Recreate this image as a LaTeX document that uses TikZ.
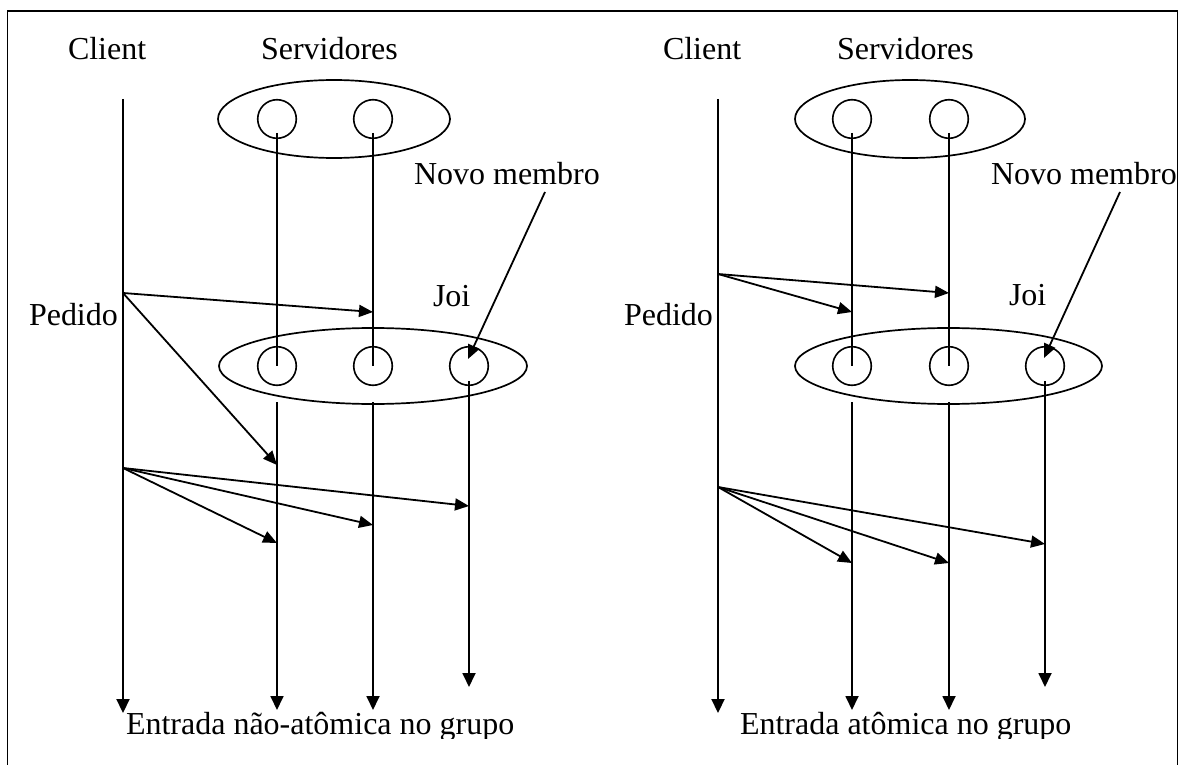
\documentclass[tikz,border=0pt]{standalone}
\usepackage{fontspec}
\setmainfont{Liberation Serif}
\usetikzlibrary{shapes.geometric,arrows.meta}
\tikzset{
  lbl/.style={anchor=base west,inner sep=0pt,outer sep=0pt,font=\fontsize{32}{38}\selectfont},
  grp/.style={ellipse,draw,line width=1.7pt,inner sep=0pt},
  proc/.style={circle,draw,line width=1.6pt,minimum size=38.6pt,inner sep=0pt},
  life/.style={line width=1.6pt},
  clientline/.style={line width=2.2pt,-{Triangle[length=14pt,width=13pt]}},
  lifearrow/.style={line width=1.8pt,-{Triangle[length=14pt,width=13pt]}},
  msg/.style={line width=1.8pt,-{Triangle[length=14pt,width=12pt]}},
}
\begin{document}
\begin{tikzpicture}[x=1pt,y=-1pt]
\useasboundingbox (0,0) rectangle (1179,765);
\clip (0,0) rectangle (1179,765);
% frame
\draw[line width=1.8pt] (7.5,775) -- (7.5,11) -- (1177.5,11) -- (1177.5,775);

% ================= LEFT PANEL =================
\node[lbl] (lclient) at (68,60) {Client};
\node[lbl] (lserv) at (261,60) {Servidores};
\node[lbl] (lnovo) at (414,185) {Novo membro};
\node[lbl] (ljoi) at (433,306) {Joi};
\node[lbl] (lped) at (29,325) {Pedido};

\node[grp,minimum width=232pt,minimum height=78pt] (lg1) at (334,119) {};
\node[proc] (la1) at (277,119) {};
\node[proc] (la2) at (373,119) {};
\node[grp,minimum width=308pt,minimum height=76pt] (lg2) at (373,366) {};
\node[proc] (lb1) at (277,366) {};
\node[proc] (lb2) at (373,366) {};
\node[proc] (lb3) at (469,366) {};

\coordinate (lct) at (123,99);
\coordinate (lcb) at (123,713);
\draw[clientline] (lct) -- (lcb);

\draw[life] ([yshift=-14pt]la1.center) -- (lb1.center);
\draw[life] ([yshift=-14pt]la2.center) -- (lb2.center);

\coordinate (ls1t) at (277,402); \coordinate (ls1b) at (277,710);
\coordinate (ls2t) at (373,402); \coordinate (ls2b) at (373,710);
\coordinate (ls3t) at (469,381); \coordinate (ls3b) at (469,687);
\draw[lifearrow] (ls1t) -- (ls1b);
\draw[lifearrow] (ls2t) -- (ls2b);
\draw[lifearrow] (ls3t) -- (ls3b);

% Pedido messages
\coordinate (lp) at (123,293);
\coordinate (lp1) at (373,312);
\coordinate (lp2) at (277,465);
\draw[msg] (lp) -- (lp1);
\draw[msg] (lp) -- (lp2);

% broadcast
\coordinate (lm) at (123,468);
\coordinate (lm1) at (277,543);
\coordinate (lm2) at (373,525);
\coordinate (lm3) at (469,506);
\draw[msg] (lm) -- (lm1);
\draw[msg] (lm) -- (lm2);
\draw[msg] (lm) -- (lm3);

% novo membro arrow
\coordinate (lnv) at (545,192);
\draw[msg] (lnv) -- ([xshift=-1pt,yshift=7pt]lb3.center);

% ================= RIGHT PANEL =================
\node[lbl] (rclient) at (663,60) {Client};
\node[lbl] (rserv) at (837,60) {Servidores};
\node[lbl] (rnovo) at (991,185) {Novo membro};
\node[lbl] (rjoi) at (1009,305) {Joi};
\node[lbl] (rped) at (624,325) {Pedido};

\node[grp,minimum width=230pt,minimum height=78pt] (rg1) at (910,119) {};
\node[proc] (ra1) at (852,119) {};
\node[proc] (ra2) at (949,119) {};
\node[grp,minimum width=307pt,minimum height=76pt] (rg2) at (948.5,366) {};
\node[proc] (rb1) at (852,366) {};
\node[proc] (rb2) at (949,366) {};
\node[proc] (rb3) at (1045,366) {};

\coordinate (rct) at (718,99);
\coordinate (rcb) at (718,713);
\draw[clientline] (rct) -- (rcb);

\draw[life] ([yshift=-14pt]ra1.center) -- (rb1.center);
\draw[life] ([yshift=-14pt]ra2.center) -- (rb2.center);

\coordinate (rs1t) at (852,402); \coordinate (rs1b) at (852,710);
\coordinate (rs2t) at (949,402); \coordinate (rs2b) at (949,710);
\coordinate (rs3t) at (1045,381); \coordinate (rs3b) at (1045,687);
\draw[lifearrow] (rs1t) -- (rs1b);
\draw[lifearrow] (rs2t) -- (rs2b);
\draw[lifearrow] (rs3t) -- (rs3b);

% Pedido messages
\coordinate (rp) at (718,274);
\coordinate (rp1) at (852,312);
\coordinate (rp2) at (949,293);
\draw[msg] (rp) -- (rp1);
\draw[msg] (rp) -- (rp2);

% broadcast
\coordinate (rm) at (718,487);
\coordinate (rm1) at (852,563);
\coordinate (rm2) at (949,563);
\coordinate (rm3) at (1045,544);
\draw[msg] (rm) -- (rm1);
\draw[msg] (rm) -- (rm2);
\draw[msg] (rm) -- (rm3);

% novo membro arrow
\coordinate (rnv) at (1120,192);
\draw[msg] (rnv) -- ([xshift=-1pt,yshift=8pt]rb3.center);

% bottom captions (clipped like the original text boxes)
\begin{scope}
\clip (0,0) rectangle (1179,738);
\node[lbl] (lcap) at (126,734) {Entrada não-atômica no grupo};
\node[lbl] (rcap) at (740,734) {Entrada atômica no grupo};
\end{scope}
\end{tikzpicture}
\end{document}
